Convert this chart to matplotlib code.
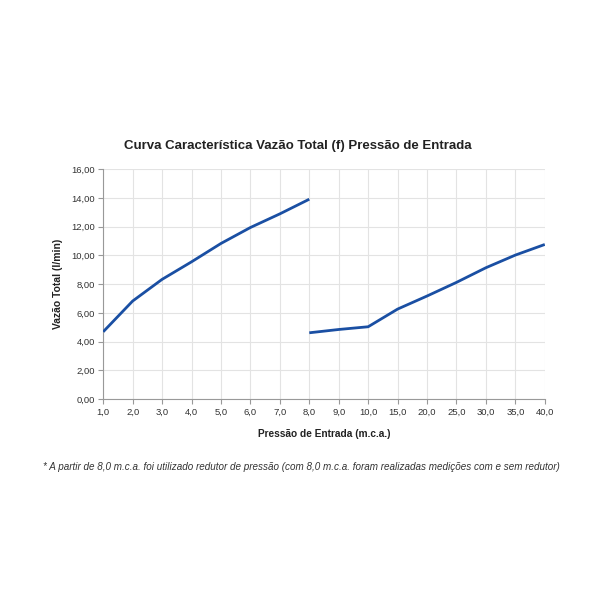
import matplotlib
matplotlib.use("Agg")
import matplotlib.pyplot as plt

x_labels = ["1,0", "2,0", "3,0", "4,0", "5,0", "6,0", "7,0", "8,0",
            "9,0", "10,0", "15,0", "20,0", "25,0", "30,0", "35,0", "40,0"]
# series 1: sem redutor (1,0 .. 8,0)
s1_values = [4.68, 6.82, 8.33, 9.55, 10.83, 11.94, 12.89, 13.91]
# series 2: com redutor (8,0 .. 40,0)
s2_values = [4.61, 4.84, 5.03, 6.26, 7.17, 8.12, 9.14, 10.02, 10.76]
y_ticks = [0, 2, 4, 6, 8, 10, 12, 14, 16]

plt.rcParams['font.family'] = ['Liberation Sans', 'DejaVu Sans']

fig = plt.figure(figsize=(6, 6), dpi=100)
ax = fig.add_axes([0.172, 0.335, 0.736, 0.383])

pos1 = list(range(0, 8))
pos2 = list(range(7, 16))
color = '#1a4fa3'
ax.plot(pos1, s1_values, color=color, lw=2.0, solid_capstyle='butt', zorder=3)
ax.plot(pos2, s2_values, color=color, lw=2.0, solid_capstyle='butt', zorder=3)

ax.set_xlim(0, 15)
ax.set_ylim(0, 16)
ax.set_xticks(range(16))
ax.set_xticklabels(x_labels)
ax.set_yticks(y_ticks)
ax.set_yticklabels([f"{v:.2f}".replace('.', ',') for v in y_ticks])

ax.grid(True, color='#e3e3e3', lw=0.8, zorder=0)
ax.set_axisbelow(True)
for s in ['top', 'right']:
    ax.spines[s].set_visible(False)
for s in ['left', 'bottom']:
    ax.spines[s].set_color('#999999')
    ax.spines[s].set_linewidth(0.8)
ax.tick_params(axis='both', colors='#999999', length=3.5, width=0.8,
               labelcolor='#333333', labelsize=6.8, pad=2.5)

ax.set_xlabel("Pressão de Entrada (m.c.a.)", fontsize=7.3, fontweight='bold',
              color='#222222', labelpad=9)
ax.set_ylabel("Vazão Total (l/min)", fontsize=7.5, fontweight='bold',
              color='#222222', labelpad=6)
fig.text(0.497, 0.757, "Curva Característica Vazão Total (f) Pressão de Entrada",
         ha='center', va='center', fontsize=9.5, fontweight='bold', color='#222222')
fig.text(0.503, 0.222,
         "* A partir de 8,0 m.c.a. foi utilizado redutor de pressão (com 8,0 m.c.a. foram realizadas medições com e sem redutor)",
         ha='center', va='center', fontsize=7.1, style='italic', color='#333333')

fig.savefig("out.png", dpi=100)
